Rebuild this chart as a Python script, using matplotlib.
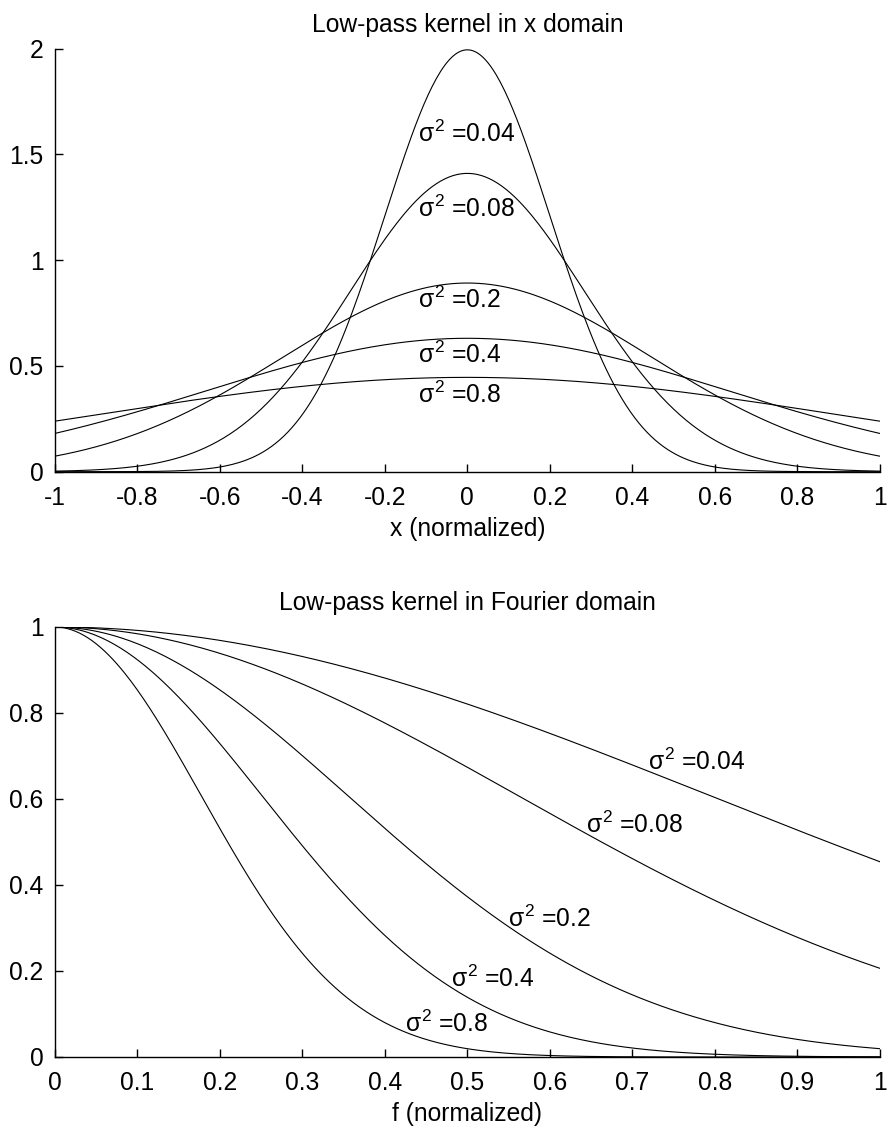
import numpy as np
import matplotlib.pyplot as plt

plt.rcParams['font.family'] = ['Liberation Sans', 'DejaVu Sans']
plt.rcParams['mathtext.fontset'] = 'custom'
plt.rcParams['mathtext.rm'] = 'Liberation Sans'
plt.rcParams['mathtext.it'] = 'Liberation Sans'
plt.rcParams['font.size'] = 17.7
plt.rcParams['axes.titlesize'] = 17.7

# kernel variances
sigma2 = [0.04, 0.08, 0.2, 0.4, 0.8]
labels = [r'$\sigma^2$ =' + s for s in ['0.04', '0.08', '0.2', '0.4', '0.8']]

x = np.linspace(-1, 1, 401)
f = np.linspace(0, 1, 401)

# label anchors (left, baseline) for each curve
pos_x = [(-0.12, 1.56), (-0.12, 1.206), (-0.12, 0.774), (-0.12, 0.514), (-0.12, 0.325)]
pos_f = [(0.719, 0.667), (0.644, 0.521), (0.549, 0.302), (0.480, 0.163), (0.425, 0.058)]

fig = plt.figure(figsize=(8.9, 11.26), dpi=100)
ax1 = fig.add_axes([54.7 / 890, 1 - 471.7 / 1126, 825.3 / 890, 423 / 1126])
ax2 = fig.add_axes([54.7 / 890, 1 - 1057 / 1126, 825.3 / 890, 430 / 1126])


def style(ax):
    ax.spines['top'].set_visible(False)
    ax.spines['right'].set_visible(False)
    for s in ('left', 'bottom'):
        ax.spines[s].set_linewidth(1.0)
    ax.tick_params(direction='in', length=6, width=1.0, pad=8)
    ax.tick_params(axis='x', pad=10)


for s2, (tx, ty), lab in zip(sigma2, pos_x, labels):
    g = np.exp(-x ** 2 / (2 * s2)) / np.sqrt(2 * np.pi * s2)
    ax1.plot(x, g, color='black', lw=0.8)
    ax1.text(tx, ty, lab, ha='left', va='baseline')

ax1.set_xlim(-1, 1)
ax1.set_ylim(0, 2)
ax1.set_xticks(np.arange(-1, 1.01, 0.2))
ax1.set_xticklabels(['-1', '-0.8', '-0.6', '-0.4', '-0.2', '0', '0.2', '0.4', '0.6', '0.8', '1'])
ax1.set_yticks([0, 0.5, 1, 1.5, 2])
ax1.set_yticklabels(['0', '0.5', '1', '1.5', '2'])
ax1.set_title('Low-pass kernel in x domain', pad=12)
ax1.set_xlabel('x (normalized)', labelpad=5)
style(ax1)

for s2, (tx, ty), lab in zip(sigma2, pos_f, labels):
    G = np.exp(-2 * np.pi ** 2 * s2 * f ** 2)
    ax2.plot(f, G, color='black', lw=0.8)
    ax2.text(tx, ty, lab, ha='left', va='baseline')

ax2.set_xlim(0, 1)
ax2.set_ylim(0, 1)
ax2.set_xticks(np.arange(0, 1.01, 0.1))
ax2.set_xticklabels(['0', '0.1', '0.2', '0.3', '0.4', '0.5', '0.6', '0.7', '0.8', '0.9', '1'])
ax2.set_yticks(np.arange(0, 1.01, 0.2))
ax2.set_yticklabels(['0', '0.2', '0.4', '0.6', '0.8', '1'])
ax2.set_title('Low-pass kernel in Fourier domain', pad=12)
ax2.set_xlabel('f (normalized)', labelpad=5)
style(ax2)

fig.savefig('out.png', dpi=100)
